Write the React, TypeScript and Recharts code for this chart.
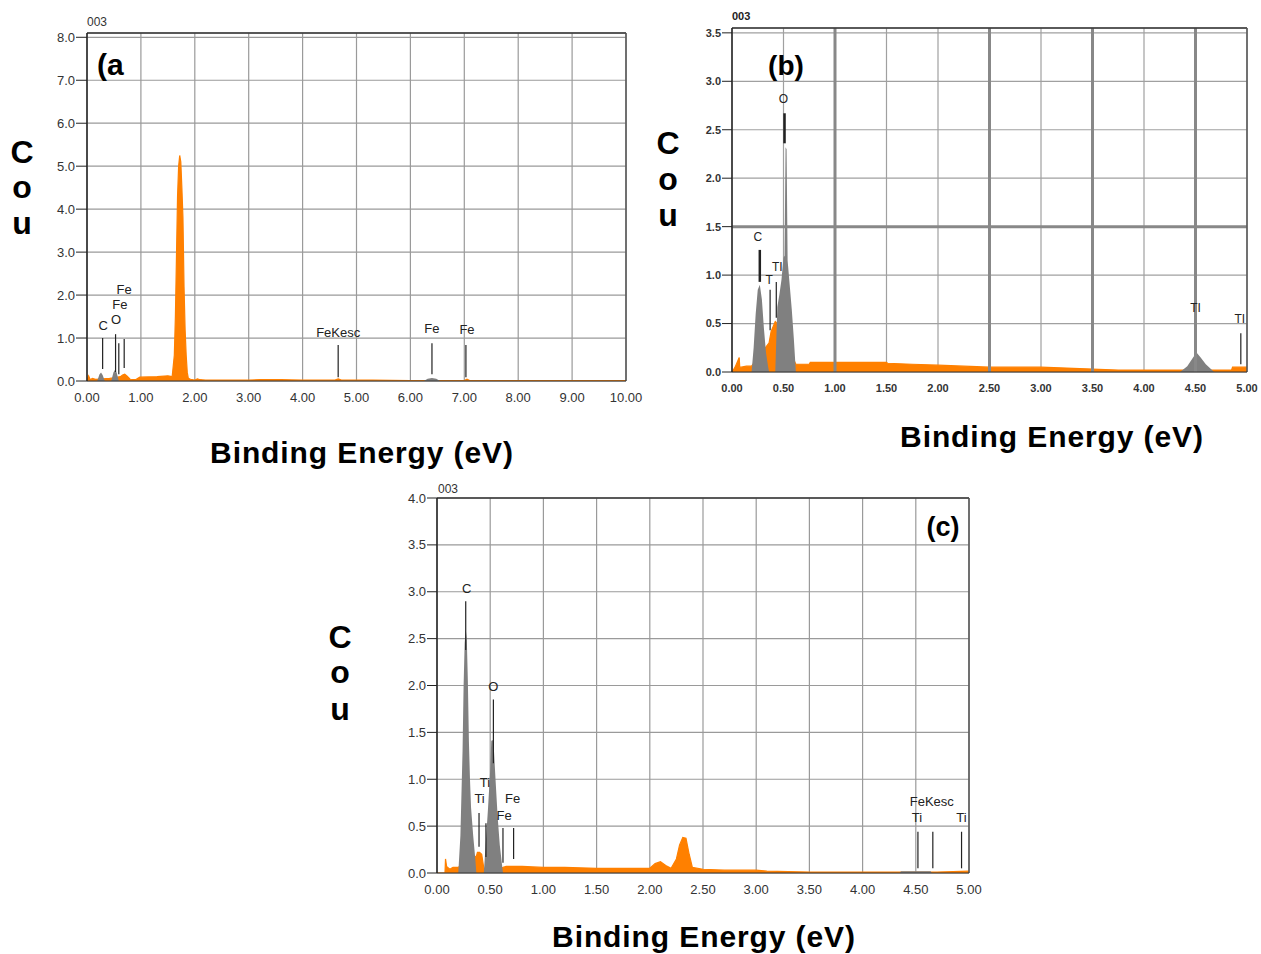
import {
  ComposedChart,
  Area,
  XAxis,
  YAxis,
  CartesianGrid,
  ReferenceLine,
  Scatter,
} from "recharts";

const ORANGE = "#ff8000";
const GRAY = "#808080";
const FONT = "'Liberation Sans', Arial, sans-serif";

// ---- panel (a) ----
const aTicksX = [0, 1, 2, 3, 4, 5, 6, 7, 8, 9, 10];
const aTicksY = [0, 1, 2, 3, 4, 5, 6, 7, 8];
const aBgE = [0, 0.03, 0.06, 0.1, 0.16, 0.42, 0.46, 0.62, 0.66, 0.7, 0.74, 0.8, 0.9, 0.98, 1.3, 1.5, 1.58, 1.62, 1.64, 1.66, 1.68, 1.7, 1.72, 1.74, 1.76, 1.78, 1.8, 1.82, 1.84, 1.86, 1.88, 1.92, 2.0, 2.05, 2.1, 2.2, 3.0, 3.2, 3.6, 4.0, 4.6, 4.66, 4.72, 5.3, 6.0, 7.0, 7.05, 7.1, 8.0, 9.0, 10.0];
const aBgY = [0.02, 0.12, 0.03, 0.06, 0.04, 0.06, 0.07, 0.1, 0.14, 0.16, 0.12, 0.04, 0.03, 0.09, 0.1, 0.12, 0.1, 0.6, 1.5, 2.9, 4.3, 5.0, 5.25, 5.1, 4.5, 3.8, 2.2, 1.2, 0.6, 0.2, 0.06, 0.04, 0.02, 0.05, 0.03, 0.02, 0.02, 0.03, 0.03, 0.02, 0.02, 0.05, 0.02, 0.02, 0.01, 0.01, 0.04, 0.01, 0.01, 0.01, 0.01];
const aPkE = [0.19, 0.23, 0.26, 0.29, 0.33, 0.45, 0.49, 0.52, 0.55, 0.59, 6.25, 6.32, 6.4, 6.48, 6.55];
const aPkY = [0, 0.15, 0.2, 0.14, 0, 0, 0.2, 0.26, 0.2, 0, 0, 0.05, 0.07, 0.05, 0];
const aMarkX = [0.29, 0.53, 0.59, 0.69, 4.66, 6.4, 7.03];
const aMarkTop = [1.0, 1.09, 0.88, 0.98, 0.84, 0.88, 0.84];
const aMarkBot = [0.28, 0.21, 0.16, 0.3, 0.09, 0.16, 0.09];
const aLabX = [0.3, 0.54, 0.61, 0.69, 4.66, 6.4, 7.05];
const aLabY = [1.3, 1.42, 1.79, 2.14, 1.14, 1.23, 1.19];
const aLabT = ["C", "O", "Fe", "Fe", "FeKesc", "Fe", "Fe"];

// ---- panel (b) ----
const bTicksX = [0, 0.5, 1, 1.5, 2, 2.5, 3, 3.5, 4, 4.5, 5];
const bTicksY = [0, 0.5, 1, 1.5, 2, 2.5, 3, 3.5];
const bHeavyX = [1, 2.5, 3.5, 4.5];
const bHeavyY = [1.5];
const bBgE = [0, 0.03, 0.07, 0.075, 0.09, 0.14, 0.19, 0.36, 0.38, 0.4, 0.42, 0.44, 0.62, 0.64, 0.75, 0.76, 1.0, 1.25, 1.5, 1.51, 1.75, 2.0, 2.25, 2.5, 2.75, 3.0, 3.25, 3.5, 3.75, 4.0, 4.35, 4.7, 4.85, 4.86, 5.0];
const bBgY = [0, 0.05, 0.15, 0.05, 0.05, 0.06, 0.06, 0.3, 0.42, 0.47, 0.52, 0.5, 0.08, 0.08, 0.08, 0.1, 0.1, 0.1, 0.1, 0.09, 0.08, 0.07, 0.06, 0.05, 0.05, 0.05, 0.04, 0.03, 0.02, 0.02, 0.02, 0.02, 0.02, 0.05, 0.05];
const bPkE = [0.19, 0.21, 0.23, 0.25, 0.27, 0.29, 0.31, 0.33, 0.35, 0.36, 0.42, 0.44, 0.46, 0.48, 0.5, 0.51, 0.52, 0.53, 0.54, 0.56, 0.58, 0.6, 0.62, 4.35, 4.42, 4.47, 4.51, 4.55, 4.6, 4.65, 4.68];
const bPkY = [0, 0.25, 0.6, 0.85, 0.9, 0.75, 0.45, 0.2, 0.06, 0, 0, 0.67, 0.8, 0.95, 1.18, 1.2, 2.32, 2.3, 1.15, 0.9, 0.65, 0.35, 0, 0, 0.06, 0.14, 0.2, 0.15, 0.08, 0.03, 0];
const bMarkX = [0.27, 0.37, 0.43, 0.51, 4.94];
const bMarkTop = [1.26, 0.85, 0.93, 2.67, 0.4];
const bMarkBot = [0.93, 0.43, 0.56, 2.36, 0.08];
const bMarkW = [2.5, 1.2, 1.2, 2.5, 1.2];
const bLabX = [0.25, 0.36, 0.44, 0.5, 4.5, 4.93];
const bLabY = [1.39, 0.95, 1.08, 2.82, 0.66, 0.55];
const bLabT = ["C", "T", "TI", "O", "TI", "TI"];

// ---- panel (c) ----
const cTicksX = [0, 0.5, 1, 1.5, 2, 2.5, 3, 3.5, 4, 4.5, 5];
const cTicksY = [0, 0.5, 1, 1.5, 2, 2.5, 3, 3.5, 4];
const cBgE = [0, 0.075, 0.08, 0.09, 0.12, 0.15, 0.2, 0.37, 0.38, 0.4, 0.42, 0.44, 0.62, 0.65, 0.8, 1.0, 1.2, 1.5, 1.8, 2.0, 2.05, 2.1, 2.15, 2.2, 2.25, 2.28, 2.31, 2.34, 2.37, 2.4, 2.5, 2.7, 3.0, 3.1, 3.5, 4.0, 4.35, 4.65, 4.7, 5.0];
const cBgY = [0, 0, 0.15, 0.07, 0.04, 0.06, 0.06, 0.18, 0.22, 0.22, 0.2, 0.05, 0.06, 0.07, 0.07, 0.06, 0.06, 0.05, 0.05, 0.05, 0.1, 0.12, 0.08, 0.05, 0.15, 0.3, 0.38, 0.37, 0.2, 0.06, 0.04, 0.03, 0.03, 0.02, 0.01, 0.01, 0.01, 0.01, 0.01, 0.02];
const cPkE = [0.2, 0.22, 0.24, 0.25, 0.26, 0.27, 0.28, 0.29, 0.3, 0.31, 0.32, 0.34, 0.36, 0.37, 0.44, 0.46, 0.48, 0.5, 0.51, 0.53, 0.55, 0.57, 0.59, 0.61, 0.62, 4.35, 4.36, 4.64, 4.65];
const cPkY = [0, 0.4, 1.3, 2.0, 2.45, 2.6, 2.5, 2.05, 1.4, 1.0, 0.7, 0.4, 0.15, 0, 0, 0.35, 0.7, 1.1, 1.41, 1.42, 1.0, 0.6, 0.3, 0.1, 0, 0, 0.02, 0.02, 0];
const cMarkX = [0.27, 0.53, 0.395, 0.46, 0.62, 0.72, 4.52, 4.66, 4.93];
const cMarkTop = [2.9, 1.85, 0.64, 0.53, 0.48, 0.48, 0.44, 0.44, 0.44];
const cMarkBot = [2.38, 1.17, 0.28, 0.17, 0.11, 0.15, 0.05, 0.05, 0.05];
const cLabX = [0.28, 0.53, 0.45, 0.4, 0.71, 0.63, 4.65, 4.51, 4.93];
const cLabY = [3.04, 1.99, 0.97, 0.79, 0.8, 0.61, 0.76, 0.59, 0.59];
const cLabT = ["C", "O", "Ti", "Ti", "Fe", "Fe", "FeKesc", "Ti", "Ti"];

type Row = { e: number; bg?: number; pk?: number };

const toRows = (bgE: number[], bgY: number[], pkE: number[], pkY: number[]): Row[] =>
  [
    ...bgE.map((e, i) => ({ e, bg: bgY[i] })),
    ...pkE.map((e, i) => ({ e, pk: pkY[i] })),
  ].sort((p, q) => p.e - q.e);

interface SpecProps {
  width: number;
  height: number;
  margin: { top: number; right: number; bottom: number; left: number };
  rows: Row[];
  xMax: number;
  yMax: number;
  ticksX: number[];
  ticksY: number[];
  markX: number[];
  markTop: number[];
  markBot: number[];
  markW?: number[];
  labX: number[];
  labY: number[];
  labT: string[];
  tickFont: number;
  tickBold?: boolean;
  labFont: number;
  tickSize: number;
  gridColor: string;
  heavyX?: number[];
  heavyY?: number[];
}

const Spectrum = (p: SpecProps) => {
  const labels = p.labX.map((x, i) => ({ e: x, v: p.labY[i], t: p.labT[i] }));
  const tick = {
    fontSize: p.tickFont,
    fill: "#333",
    fontFamily: FONT,
    fontWeight: p.tickBold ? 700 : 400,
  };
  return (
    <ComposedChart width={p.width} height={p.height} data={p.rows} margin={p.margin}>
      <CartesianGrid stroke={p.gridColor} strokeWidth={1.2} />
      {(p.heavyX || []).map((x) => (
        <ReferenceLine key={"hx" + x} x={x} stroke="#888" strokeWidth={3} />
      ))}
      {(p.heavyY || []).map((y) => (
        <ReferenceLine key={"hy" + y} y={y} stroke="#888" strokeWidth={3} />
      ))}
      <XAxis
        dataKey="e"
        type="number"
        domain={[0, p.xMax]}
        ticks={p.ticksX}
        interval={0}
        allowDataOverflow
        height={30}
        tickLine={false}
        tickSize={0}
        tickMargin={12}
        axisLine={{ stroke: "#333" }}
        tick={tick}
        tickFormatter={(v: number) => v.toFixed(2)}
      />
      <YAxis
        type="number"
        domain={[0, p.yMax]}
        ticks={p.ticksY}
        interval={0}
        allowDataOverflow
        width={40}
        tickSize={p.tickSize}
        tickMargin={1}
        tickLine={{ stroke: "#222" }}
        axisLine={{ stroke: "#222", strokeWidth: 1.5 }}
        tick={tick}
        tickFormatter={(v: number) => v.toFixed(1)}
      />
      <ReferenceLine y={p.yMax} stroke="#333" strokeWidth={1.5} />
      <ReferenceLine x={p.xMax} stroke="#555" strokeWidth={1.5} />
      <Area
        dataKey="bg"
        type="linear"
        stroke={ORANGE}
        strokeWidth={1.2}
        fill={ORANGE}
        fillOpacity={1}
        connectNulls
        dot={false}
        activeDot={false}
        isAnimationActive={false}
      />
      <Area
        dataKey="pk"
        type="linear"
        stroke="none"
        fill={GRAY}
        fillOpacity={1}
        connectNulls
        dot={false}
        activeDot={false}
        isAnimationActive={false}
      />
      {p.markX.map((x, i) => (
        <ReferenceLine
          key={"m" + i}
          segment={[
            { x, y: p.markBot[i] },
            { x, y: p.markTop[i] },
          ]}
          stroke="#222"
          strokeWidth={p.markW ? p.markW[i] : 1.2}
        />
      ))}
      <Scatter
        data={labels}
        dataKey="v"
        isAnimationActive={false}
        shape={(s: any) => (
          <text
            x={s.cx}
            y={s.cy}
            textAnchor="middle"
            dominantBaseline="central"
            fontSize={p.labFont}
            fontFamily={FONT}
            fill="#222"
          >
            {s.payload.t}
          </text>
        )}
      />
    </ComposedChart>
  );
};

const abs = (left: number, top: number): React.CSSProperties => ({
  position: "absolute",
  left,
  top,
});

const YLetters = ({ x, tops }: { x: number; tops: number[] }) => (
  <>
    {["C", "o", "u"].map((ch, i) => (
      <div
        key={ch}
        style={{
          ...abs(x - 20, tops[i]),
          width: 40,
          textAlign: "center",
          fontSize: 32,
          lineHeight: "32px",
          fontWeight: 700,
        }}
      >
        {ch}
      </div>
    ))}
  </>
);

const XTitle = ({ cx, top }: { cx: number; top: number }) => (
  <div
    style={{
      ...abs(cx - 200, top),
      width: 400,
      textAlign: "center",
      fontSize: 30,
      lineHeight: "28px",
      fontWeight: 700,
      letterSpacing: 0.9,
    }}
  >
    Binding Energy (eV)
  </div>
);

export default function App() {
  return (
    <div
      style={{
        position: "absolute",
        left: 0,
        top: 0,
        width: 1261,
        height: 954,
        background: "#fff",
        fontFamily: FONT,
        color: "#000",
      }}
    >
      {/* (a) */}
      <div style={abs(0, 0)}>
        <Spectrum
          width={648}
          height={420}
          margin={{ top: 33, right: 22, bottom: 9, left: 47 }}
          rows={toRows(aBgE, aBgY, aPkE, aPkY)}
          xMax={10}
          yMax={8.1}
          ticksX={aTicksX}
          ticksY={aTicksY}
          markX={aMarkX}
          markTop={aMarkTop}
          markBot={aMarkBot}
          labX={aLabX}
          labY={aLabY}
          labT={aLabT}
          tickFont={13}
          labFont={13}
          tickSize={11}
          gridColor="#9a9a9a"
        />
      </div>
      <div style={{ ...abs(87, 15), fontSize: 12, color: "#333" }}>003</div>
      <div style={{ ...abs(97, 48), fontSize: 30, lineHeight: "34px", fontWeight: 700 }}>
        (a
      </div>
      <YLetters x={22} tops={[136, 171, 207]} />
      <XTitle cx={362} top={439} />

      {/* (b) */}
      <div style={abs(650, 0)}>
        <Spectrum
          width={611}
          height={410}
          margin={{ top: 28, right: 14, bottom: 8, left: 42 }}
          rows={toRows(bBgE, bBgY, bPkE, bPkY)}
          xMax={5}
          yMax={3.55}
          ticksX={bTicksX}
          ticksY={bTicksY}
          markX={bMarkX}
          markTop={bMarkTop}
          markBot={bMarkBot}
          markW={bMarkW}
          labX={bLabX}
          labY={bLabY}
          labT={bLabT}
          tickFont={11}
          tickBold
          labFont={12}
          tickSize={10}
          gridColor="#a0a0a0"
          heavyX={bHeavyX}
          heavyY={bHeavyY}
        />
      </div>
      <div style={{ ...abs(732, 10), fontSize: 11, fontWeight: 700, color: "#222" }}>003</div>
      <div style={{ ...abs(746, 51), width: 80, textAlign: "center", fontSize: 28, lineHeight: "30px", fontWeight: 700 }}>
        (b)
      </div>
      <YLetters x={668} tops={[127, 163, 199]} />
      <XTitle cx={1052} top={423} />

      {/* (c) */}
      <div style={abs(330, 480)}>
        <Spectrum
          width={660}
          height={430}
          margin={{ top: 18, right: 21, bottom: 7, left: 67 }}
          rows={toRows(cBgE, cBgY, cPkE, cPkY)}
          xMax={5}
          yMax={4}
          ticksX={cTicksX}
          ticksY={cTicksY}
          markX={cMarkX}
          markTop={cMarkTop}
          markBot={cMarkBot}
          labX={cLabX}
          labY={cLabY}
          labT={cLabT}
          tickFont={13}
          labFont={13}
          tickSize={10}
          gridColor="#9a9a9a"
        />
      </div>
      <div style={{ ...abs(438, 482), fontSize: 12, color: "#333" }}>003</div>
      <div style={{ ...abs(903, 512), width: 80, textAlign: "center", fontSize: 27, lineHeight: "30px", fontWeight: 700 }}>
        (c)
      </div>
      <YLetters x={340} tops={[621, 656, 693]} />
      <XTitle cx={704} top={923} />
    </div>
  );
}
